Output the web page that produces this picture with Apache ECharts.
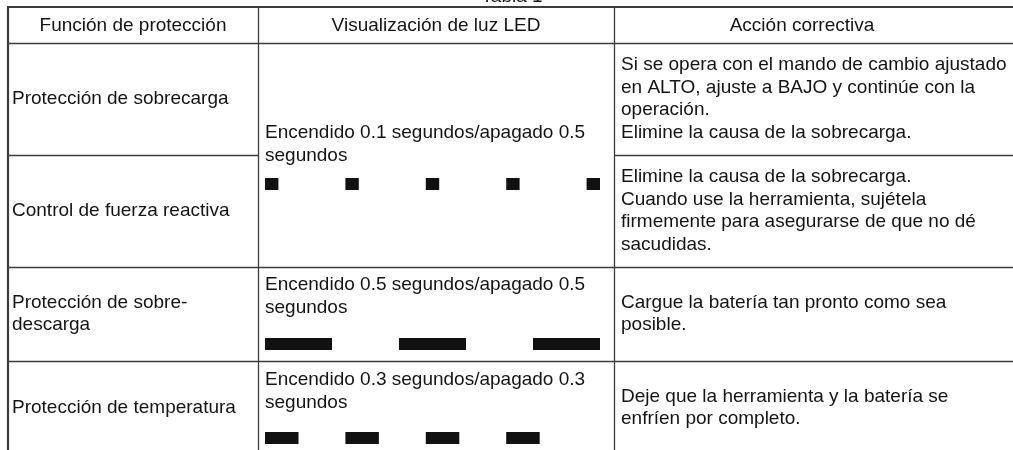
<!DOCTYPE html>
<html>
<head>
<meta charset="utf-8">
<script src="https://cdn.jsdelivr.net/npm/echarts@6/dist/echarts.min.js"></script>
<style>
html,body{margin:0;padding:0;background:#fff;}
#chart{width:1013px;height:450px;}
</style>
</head>
<body>
<div id="chart"></div>
<script>
// ---- data ----
const tableTitle = 'Tabla 1';
const headers = ['Función de protección', 'Visualización de luz LED', 'Acción correctiva'];
const functions = [
  'Protección de sobrecarga',
  'Control de fuerza reactiva',
  'Protección de sobre-\ndescarga',
  'Protección de temperatura'
];
const ledTexts = [
  'Encendido 0.1 segundos/apagado 0.5\nsegundos',
  'Encendido 0.5 segundos/apagado 0.5\nsegundos',
  'Encendido 0.3 segundos/apagado 0.3\nsegundos'
];
const actions = [
  'Si se opera con el mando de cambio ajustado\nen ALTO, ajuste a BAJO y continúe con la\noperación.\nElimine la causa de la sobrecarga.',
  'Elimine la causa de la sobrecarga.\nCuando use la herramienta, sujétela\nfirmemente para asegurarse de que no dé\nsacudidas.',
  'Cargue la batería tan pronto como sea\nposible.',
  'Deje que la herramienta y la batería se\nenfríen por completo.'
];
// LED pulses [start s, end s] as drawn
const pulsesSobrecarga = [[0, 0.1], [0.6, 0.7], [1.2, 1.3], [1.8, 1.9], [2.4, 2.5]];
const pulsesDescarga = [[0, 0.5], [1.0, 1.5], [2.0, 2.5]];
const pulsesTemperatura = [[0, 0.25], [0.6, 0.85], [1.2, 1.45], [1.8, 2.05]];
const timeMax = 2.6;

// ---- layout ----
const FONT = '"Liberation Sans", Arial, Helvetica, sans-serif';
const FS = 19, LH = 22.5;
const TXT = '#141414', LINE = '#3c3c3c';
const X0 = 8, C1 = 258, C2 = 614, XR = 1013;
const Y0 = 7, H1 = 43, R1 = 155, R2 = 267, R3 = 361, R4 = 455;

function hline(x1, x2, y, w) {
  return {type: 'line', silent: true, shape: {x1: x1, y1: y, x2: x2, y2: y}, style: {stroke: LINE, lineWidth: w || 1.3}};
}
function vline(x, y1, y2, w) {
  return {type: 'line', silent: true, shape: {x1: x, y1: y1, x2: x, y2: y2}, style: {stroke: LINE, lineWidth: w || 1.3}};
}
function txt(s, x, y, align) {
  return {type: 'text', silent: true, x: x, y: y, style: {text: s, fill: TXT, fontSize: FS, fontFamily: FONT, lineHeight: LH, align: align || 'left', verticalAlign: 'middle'}};
}

const graphics = [
  // title (mostly cut off by the page top)
  {type: 'text', silent: true, x: 512, y: -3, style: {text: tableTitle, fill: TXT, fontSize: FS, fontFamily: FONT, align: 'center', verticalAlign: 'middle'}},
  hline(X0 - 1, XR, Y0, 2.2),
  vline(X0, Y0, 460, 2.2),
  vline(C1 + 0.5, Y0, 460),
  vline(C2 + 0.5, Y0, 460),
  hline(X0, XR, H1 + 0.5),
  hline(X0, C1, R1 + 0.5),
  hline(C2, XR, R1 + 0.5),
  hline(X0, XR, R2 + 0.5),
  hline(X0, XR, R3 + 0.5),
  hline(X0, XR, R4 + 0.5),
  txt(headers[0], (X0 + C1) / 2, (Y0 + H1) / 2 + 1, 'center'),
  txt(headers[1], (C1 + C2) / 2, (Y0 + H1) / 2 + 1, 'center'),
  txt(headers[2], 802, (Y0 + H1) / 2 + 1, 'center'),
  txt(functions[0], 12, (H1 + R1) / 2),
  txt(functions[1], 12, (R1 + R2) / 2),
  txt(functions[2], 12, (R2 + R3) / 2),
  txt(functions[3], 12, (R3 + R4) / 2),
  txt(ledTexts[0], 265, 144.5),
  txt(ledTexts[1], 265, 296.5),
  txt(ledTexts[2], 265, 391.5),
  txt(actions[0], 621, (H1 + R1) / 2),
  txt(actions[1], 621, (R1 + R2) / 2),
  txt(actions[2], 621, (R2 + R3) / 2),
  txt(actions[3], 621, (R3 + R4) / 2)
];

const pulseSets = [pulsesSobrecarga, pulsesDescarga, pulsesTemperatura];
const gridTops = [178, 338, 432];
const grids = [], xAxes = [], yAxes = [], series = [];
pulseSets.forEach(function (set, i) {
  grids.push({left: 265, top: gridTops[i], width: 348.4, height: 12});
  xAxes.push({type: 'value', gridIndex: i, min: 0, max: timeMax, show: false});
  yAxes.push({type: 'value', gridIndex: i, min: 0, max: 1, show: false});
  series.push({
    type: 'custom', xAxisIndex: i, yAxisIndex: i, silent: true,
    data: set,
    renderItem: function (params, api) {
      const p0 = api.coord([api.value(0), 1]);
      const p1 = api.coord([api.value(1), 0]);
      return {type: 'rect', shape: {x: p0[0], y: p0[1], width: p1[0] - p0[0], height: p1[1] - p0[1]}, style: {fill: '#111'}};
    }
  });
});

const chart = echarts.init(document.getElementById('chart'), null, {renderer: 'canvas'});
chart.setOption({
  animation: false,
  backgroundColor: '#fff',
  grid: grids,
  xAxis: xAxes,
  yAxis: yAxes,
  series: series,
  graphic: {elements: graphics}
});
</script>
</body>
</html>
